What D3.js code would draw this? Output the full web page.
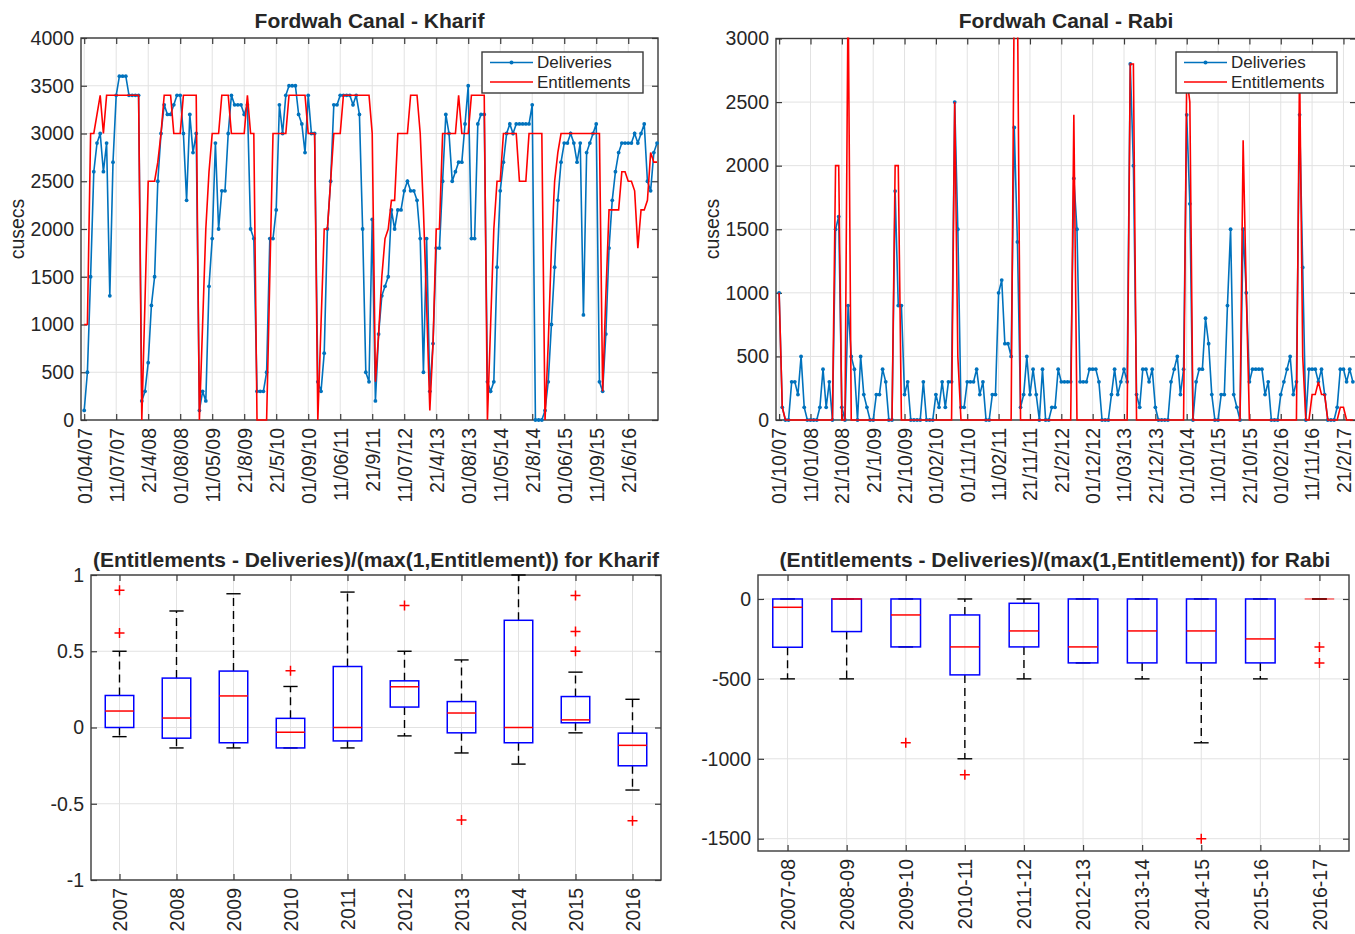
<!DOCTYPE html>
<html><head><meta charset="utf-8">
<script src="https://cdn.jsdelivr.net/npm/d3@7"></script>
<style>
body{margin:0;background:#fff;}
svg text{font-family:"Liberation Sans",Arial,Helvetica,sans-serif;fill:#262626;}
</style></head><body>
<svg id="chart" width="1355" height="934"></svg>
<script>
// ---------------- DATA ----------------
const kharifTickLabels = ["01/04/07","11/07/07","21/4/08","01/08/08","11/05/09","21/8/09","21/5/10","01/09/10","11/06/11","21/9/11","11/07/12","21/4/13","01/08/13","11/05/14","21/8/14","01/06/15","11/09/15","21/6/16"];
const kharifDeliveries = [
100,500,1500,2600,2900,3000,2600,2900,1300,2700,3400,3600,3600,3600,3400,3400,3400,3400,
200,300,600,1200,1500,2500,3000,3300,3200,3200,3300,3400,3400,3000,2300,3200,2800,3000,
100,300,200,1400,1900,2900,2000,2400,2400,3000,3400,3300,3300,3300,3200,3300,2000,1900,
300,300,300,500,1900,1900,2200,3300,3000,3400,3500,3500,3500,3200,3100,2800,3400,3000,
3000,400,300,700,2000,2500,3300,3300,3400,3400,3400,3400,3300,3400,3200,2000,500,400,
2100,200,900,1300,1400,1500,2200,2000,2200,2200,2400,2500,2400,2400,2300,1900,500,1900,
300,800,1800,1800,2500,3200,3000,2500,2600,2700,2700,3100,3500,1900,1900,3100,3200,3200,
400,300,400,1600,2400,2700,3000,3100,3000,3100,3100,3100,3100,3100,3300,0,0,0,
100,400,1000,1600,2300,2700,2900,2900,3000,2900,2700,2900,1100,2800,2900,3000,3100,400,
300,900,1800,2300,2600,2800,2900,2900,2900,2900,3000,2900,3000,3100,2500,2400,2800,2900];
const kharifEntitlements = [
1000,1000,3000,3000,3200,3400,3000,3400,3400,3400,3400,3400,3400,3400,3400,3400,3400,3400,
0,1250,2500,2500,2500,2700,3000,3400,3400,3400,3000,3000,3000,3400,3400,3400,3400,3400,
0,1000,2000,2600,3000,3000,3000,3400,3400,3400,3000,3000,3000,3000,3000,3400,3000,3000,
0,0,0,0,1500,3000,3000,3000,3000,3000,3400,3400,3400,3400,3400,3400,3000,3000,
3000,0,1000,2000,2000,2500,3000,3000,3000,3400,3400,3400,3400,3400,3400,3400,3400,3400,
3000,400,900,1500,1900,2000,2300,2300,3000,3000,3000,3000,3400,3400,3400,3000,2200,1200,
100,800,2000,2000,3000,3000,3000,3000,3000,3400,3000,3000,3000,3400,3400,3400,3400,3400,
0,1000,2000,2500,2500,3000,3000,3000,3000,3000,2500,2500,2500,3000,3000,3000,3000,3000,
0,800,1800,2500,2800,3000,3000,3000,3000,3000,3000,3000,3000,3000,3000,3000,3000,3000,
300,1300,2200,2200,2200,2200,2600,2600,2500,2500,2400,1800,2200,2200,2300,2800,2700,2700];

const rabiTickLabels = ["01/10/07","11/01/08","21/10/08","21/1/09","21/10/09","01/02/10","01/11/10","11/02/11","21/11/11","21/2/12","01/12/12","11/03/13","21/12/13","01/10/14","11/01/15","21/10/15","01/02/16","11/11/16","21/2/17"];
const rabiDeliveries = [
1000,100,0,0,300,300,200,500,100,0,
0,0,0,100,400,100,300,0,1500,1600,
100,0,900,500,400,0,500,200,100,0,
0,200,200,400,300,0,0,1800,900,900,
200,300,0,0,0,0,300,0,0,0,
200,100,300,100,300,300,2500,1500,100,100,
300,300,300,400,200,300,0,0,200,200,
1000,1100,600,600,500,2300,1400,100,200,500,
200,400,200,0,400,0,0,100,100,400,
300,300,300,300,1900,1500,300,300,300,400,
400,400,300,0,0,0,200,400,200,300,
400,300,2800,2000,200,100,400,400,300,400,
100,0,0,0,0,300,400,500,200,400,
2400,1700,0,300,400,400,800,600,200,0,
0,200,200,900,1500,200,100,0,1500,1000,
300,400,400,400,400,200,300,0,0,0,
200,300,400,500,200,300,2400,1200,0,400,
400,400,300,400,200,0,0,0,100,400,
400,300,400,300];
const rabiEntitlements = [
1000,100,0,0,0,0,0,0,0,0,
0,0,0,0,0,0,0,0,2000,2000,
0,0,3400,0,0,0,0,0,0,0,
0,0,0,0,0,0,0,2000,2000,0,
0,0,0,0,0,0,0,0,0,0,
0,0,0,0,0,0,2500,500,0,0,
0,0,0,0,0,0,0,0,0,0,
0,0,0,0,0,3400,3400,0,0,0,
0,0,0,0,0,0,0,0,0,0,
0,0,0,0,2400,0,0,0,0,0,
0,0,0,0,0,0,0,0,0,0,
0,0,2800,2800,0,0,0,0,0,0,
0,0,0,0,0,0,0,0,0,0,
2700,2500,0,0,0,0,0,0,0,0,
0,0,0,0,0,0,0,0,2200,1000,
0,0,0,0,0,0,0,0,0,0,
0,0,0,0,0,0,2800,500,0,0,
200,200,300,200,200,0,0,0,0,100,
100,0,0,0];

const kharifYears = ["2007","2008","2009","2010","2011","2012","2013","2014","2015","2016"];
const kharifQ1 = [0.00,-0.07,-0.10,-0.134,-0.088,0.134,-0.035,-0.10,0.031,-0.251];
const kharifMedian = [0.108,0.062,0.207,-0.031,0.0,0.267,0.095,0.0,0.05,-0.117];
const kharifQ3 = [0.21,0.324,0.37,0.06,0.40,0.306,0.17,0.703,0.203,-0.037];
const kharifWhiskerLow = [-0.06,-0.134,-0.134,-0.134,-0.134,-0.055,-0.167,-0.24,-0.035,-0.41];
const kharifWhiskerHigh = [0.50,0.764,0.877,0.269,0.888,0.50,0.443,1.0,0.363,0.185];
const kharifOutliers = [[0.90,0.62],[],[],[0.372],[],[0.80],[-0.606],[],[0.866,0.63,0.50],[-0.612]];
const kharifYTicks = [-1,-0.5,0,0.5,1];

const rabiSeasons = ["2007-08","2008-09","2009-10","2010-11","2011-12","2012-13","2013-14","2014-15","2015-16","2016-17"];
const rabiQ1 = [-302,-204,-300,-475,-300,-400,-400,-400,-400,0];
const rabiMedian = [-52,0,-100,-300,-200,-300,-200,-200,-250,0];
const rabiQ3 = [0,0,0,-100,-27,0,0,0,0,0];
const rabiWhiskerLow = [-500,-500,-300,-1000,-500,-400,-500,-900,-500,0];
const rabiWhiskerHigh = [0,0,0,0,0,0,0,0,0,0];
const rabiOutliers = [[],[],[-900],[-1100],[],[],[],[-1500],[],[-300,-400]];
const rabiYTicks = [-1500,-1000,-500,0];

// ---------------- DRAWING ----------------
const svg = d3.select("#chart");
const FS = 19.5;     // tick label size
const LFS = 17;      // legend text size
const BLUE = "#0072BD", RED = "#FF0000";
const GRID = "#e2e2e2", AX = "#3a3a3a";
const hyphen = f => (d => f(d).replace("\u2212", "-"));

function axesFrame(g, x, y, xTicks, xLabels, yTicks, yFmt) {
  const [x0, x1] = x.range(), [y1, y0] = y.range();
  const W = x1 - x0, H = y1 - y0;
  g.append("g").selectAll("line").data(xTicks).join("line")
    .attr("x1", d => x(d)).attr("x2", d => x(d)).attr("y1", y0).attr("y2", y1)
    .attr("stroke", GRID).attr("stroke-width", 1);
  g.append("g").selectAll("line").data(yTicks).join("line")
    .attr("y1", d => y(d)).attr("y2", d => y(d)).attr("x1", x0).attr("x2", x1)
    .attr("stroke", GRID).attr("stroke-width", 1);
  g.append("rect").attr("x", x0).attr("y", y0).attr("width", W).attr("height", H)
    .attr("fill", "none").attr("stroke", AX).attr("stroke-width", 1.4);
  const ax = g.append("g").attr("transform", `translate(0,${y1})`)
    .call(d3.axisBottom(x).tickValues(xTicks).tickFormat((d, i) => xLabels[i]).tickSizeInner(-6).tickSizeOuter(0));
  ax.select(".domain").remove();
  ax.selectAll("line").attr("stroke", AX).attr("stroke-width", 1.2);
  ax.selectAll("text").attr("transform", "rotate(-90)").attr("x", -8).attr("y", 0)
    .attr("dy", "0.35em").style("text-anchor", "end").style("font-size", FS + "px").attr("fill", "#262626");
  const axt = g.append("g").attr("transform", `translate(0,${y0})`)
    .call(d3.axisTop(x).tickValues(xTicks).tickFormat("").tickSizeInner(-6).tickSizeOuter(0));
  axt.select(".domain").remove();
  axt.selectAll("line").attr("stroke", AX).attr("stroke-width", 1.2);
  const ay = g.append("g").attr("transform", `translate(${x0},0)`)
    .call(d3.axisLeft(y).tickValues(yTicks).tickFormat(yFmt).tickSizeInner(-6).tickSizeOuter(0));
  ay.select(".domain").remove();
  ay.selectAll("line").attr("stroke", AX).attr("stroke-width", 1.2);
  ay.selectAll("text").style("font-size", FS + "px").attr("fill", "#262626").attr("x", -7);
  const ayr = g.append("g").attr("transform", `translate(${x1},0)`)
    .call(d3.axisRight(y).tickValues(yTicks).tickFormat("").tickSizeInner(-6).tickSizeOuter(0));
  ayr.select(".domain").remove();
  ayr.selectAll("line").attr("stroke", AX).attr("stroke-width", 1.2);
}

function title(txt, cx, cy) {
  svg.append("text").attr("x", cx).attr("y", cy).attr("text-anchor", "middle")
    .style("font-size", "21px").style("font-weight", "bold").attr("fill", "#111").text(txt);
}
function ylabel(txt, cx, cy) {
  svg.append("text").attr("transform", `translate(${cx},${cy}) rotate(-90)`)
    .attr("text-anchor", "middle").style("font-size", FS + "px").text(txt);
}

function timeChart(id, xr, xdom, yr, ydom, yTicks, tickLabels, del, ent, legendPos) {
  const x = d3.scaleLinear().domain(xdom).range(xr);
  const y = d3.scaleLinear().domain(ydom).range(yr);
  const g = svg.append("g");
  const xTicks = d3.range(1, 1 + 10 * tickLabels.length, 10);
  axesFrame(g, x, y, xTicks, tickLabels, yTicks, d3.format("d"));
  svg.append("clipPath").attr("id", id).append("rect")
    .attr("x", xr[0] - 2).attr("y", yr[1] - 1).attr("width", xr[1] - xr[0] + 4).attr("height", yr[0] - yr[1] + 3);
  const idx = d3.range(1, del.length + 1);
  const dg = g.append("g").attr("clip-path", `url(#${id})`);
  const line = d3.line().x((d, i) => x(idx[i])).y(d => y(d));
  dg.append("path").attr("d", line(del)).attr("fill", "none").attr("stroke", BLUE).attr("stroke-width", 1.6);
  dg.selectAll("circle").data(del).join("circle")
    .attr("cx", (d, i) => x(idx[i])).attr("cy", d => y(d)).attr("r", 1.9).attr("fill", BLUE);
  dg.append("path").attr("d", line(ent)).attr("fill", "none").attr("stroke", RED).attr("stroke-width", 1.6);
  const [lx, ly] = legendPos;
  const lg = svg.append("g").attr("transform", `translate(${lx},${ly})`);
  lg.append("rect").attr("width", 161).attr("height", 41).attr("fill", "#fff").attr("stroke", AX).attr("stroke-width", 1.4);
  lg.append("line").attr("x1", 8).attr("x2", 51).attr("y1", 10.5).attr("y2", 10.5).attr("stroke", BLUE).attr("stroke-width", 1.6);
  lg.append("circle").attr("cx", 29.5).attr("cy", 10.5).attr("r", 2).attr("fill", BLUE);
  lg.append("line").attr("x1", 8).attr("x2", 51).attr("y1", 30).attr("y2", 30).attr("stroke", RED).attr("stroke-width", 1.6);
  lg.append("text").attr("x", 55).attr("y", 10.5).attr("dy", "0.35em").style("font-size", LFS + "px").text("Deliveries");
  lg.append("text").attr("x", 55).attr("y", 30).attr("dy", "0.35em").style("font-size", LFS + "px").text("Entitlements");
}

function boxChart(xr, yr, ydom, yTicks, yFmt, cats, q1, med, q3, wl, wh, outl) {
  const x = d3.scaleLinear().domain([0.5, cats.length + 0.5]).range(xr);
  const y = d3.scaleLinear().domain(ydom).range(yr);
  const g = svg.append("g");
  const pos = d3.range(1, cats.length + 1);
  axesFrame(g, x, y, pos, cats, yTicks, yFmt);
  const step = x(2) - x(1), bw = step * 0.5, cw = step * 0.25;
  const bg = g.append("g");
  pos.forEach((p, i) => {
    const cx = x(p);
    if (wh[i] > q3[i]) bg.append("line").attr("x1", cx).attr("x2", cx).attr("y1", y(q3[i])).attr("y2", y(wh[i]))
      .attr("stroke", "#000").attr("stroke-width", 1.4).attr("stroke-dasharray", "8,5");
    if (wl[i] < q1[i]) bg.append("line").attr("x1", cx).attr("x2", cx).attr("y1", y(q1[i])).attr("y2", y(wl[i]))
      .attr("stroke", "#000").attr("stroke-width", 1.4).attr("stroke-dasharray", "8,5");
    [wl[i], wh[i]].forEach(v => bg.append("line").attr("x1", cx - cw / 2).attr("x2", cx + cw / 2)
      .attr("y1", y(v)).attr("y2", y(v)).attr("stroke", "#000").attr("stroke-width", 1.4));
    bg.append("rect").attr("x", cx - bw / 2).attr("width", bw).attr("y", y(q3[i]))
      .attr("height", Math.max(0, y(q1[i]) - y(q3[i]))).attr("fill", "none").attr("stroke", "#0000FF").attr("stroke-width", 1.5);
    bg.append("line").attr("x1", cx - bw / 2).attr("x2", cx + bw / 2).attr("y1", y(med[i])).attr("y2", y(med[i]))
      .attr("stroke", RED).attr("stroke-width", 1.5).attr("stroke-opacity", q1[i] === q3[i] ? 0.6 : 1);
    outl[i].forEach(v => {
      const oy = y(v);
      bg.append("path").attr("d", `M${cx - 5},${oy}H${cx + 5}M${cx},${oy - 5}V${oy + 5}`)
        .attr("stroke", RED).attr("stroke-width", 1.5).attr("fill", "none");
    });
  });
}

// Top-left: Kharif time series
timeChart("clipK", [81, 658], [0, 180.3], [420, 38], [0, 4000], d3.range(0, 4001, 500),
  kharifTickLabels, kharifDeliveries, kharifEntitlements, [482, 52]);
title("Fordwah Canal - Kharif", 369.5, 28);
ylabel("cusecs", 24, 229);

// Top-right: Rabi time series
timeChart("clipR", [776, 1356], [0, 185], [420, 38.5], [0, 3000], d3.range(0, 3001, 500),
  rabiTickLabels, rabiDeliveries, rabiEntitlements, [1176, 52]);
title("Fordwah Canal - Rabi", 1066, 28);
ylabel("cusecs", 719, 229);

// Bottom-left: Kharif boxplot
boxChart([91, 661], [880, 575], [-1, 1], kharifYTicks, hyphen(d3.format("~g")), kharifYears,
  kharifQ1, kharifMedian, kharifQ3, kharifWhiskerLow, kharifWhiskerHigh, kharifOutliers);
title("(Entitlements - Deliveries)/(max(1,Entitlement)) for Kharif", 376, 567);

// Bottom-right: Rabi boxplot
boxChart([758, 1349], [851, 575], [-1577, 150], rabiYTicks, hyphen(d3.format("d")), rabiSeasons,
  rabiQ1, rabiMedian, rabiQ3, rabiWhiskerLow, rabiWhiskerHigh, rabiOutliers);
title("(Entitlements - Deliveries)/(max(1,Entitlement)) for Rabi", 1055, 567);
</script>
</body></html>
